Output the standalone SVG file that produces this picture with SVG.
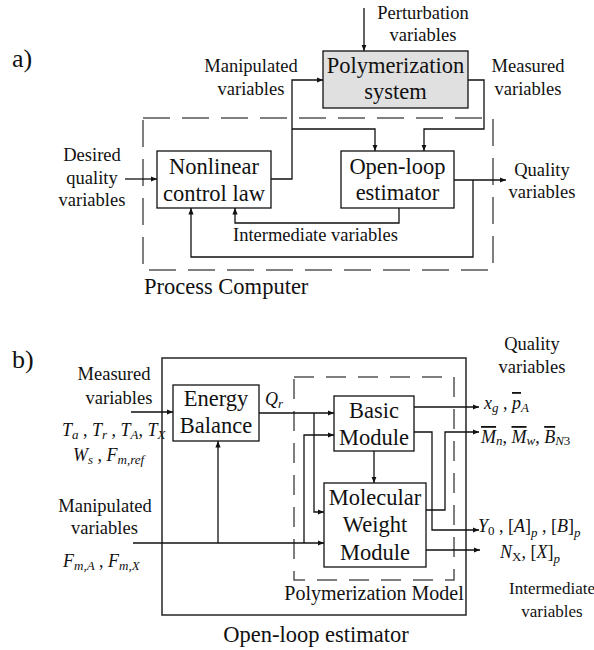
<svg xmlns="http://www.w3.org/2000/svg" width="594" height="650" viewBox="0 0 594 650" font-family="'Liberation Serif', 'Times New Roman', 'DejaVu Serif', serif">
  <defs>
    <marker id="arr" markerUnits="userSpaceOnUse" markerWidth="7" markerHeight="6" refX="6.5" refY="2.6" orient="auto">
      <path d="M0,0 L6.5,2.6 L0,5.2 z" fill="#111"/>
    </marker>
    <style>
      svg, text, tspan { font-family: 'Liberation Serif', 'Times New Roman', 'DejaVu Serif', serif; }
      text { fill: #111; }
      .box { fill: #fff; stroke: #111; stroke-width: 1.3; }
      .grey { fill: #e0e0e0; stroke: #111; stroke-width: 1.3; }
      .outer { fill: none; stroke: #333; stroke-width: 1.6; }
      .dashA { fill: none; stroke: #555; stroke-width: 1.5; stroke-dasharray: 27 12; }
      .dashB { fill: none; stroke: #555; stroke-width: 1.5; stroke-dasharray: 20 12; }
      .wire { fill: none; stroke: #111; stroke-width: 1.3; }
      .arrow { marker-end: url(#arr); }
      .big { font-size: 22.5px; text-anchor: middle; }
      .lab { font-size: 18.5px; text-anchor: middle; }
      .labl { font-size: 18.5px; }
      .tag { font-size: 26px; }
      .m { font-size: 18px; font-style: italic; }
      .sb { font-size: 13px; }
      .up { font-style: normal; }
    </style>
  </defs>

  <!-- panel a: control scheme -->
  <text class="tag" x="12" y="67">a)</text>

  <g id="process-computer">
    <rect class="dashA" x="143" y="118" width="350" height="152"/>
    <text class="big" x="144" y="294" style="text-anchor:start">Process Computer</text>
  </g>

  <g id="polymerization-system">
    <rect class="grey" x="323" y="51" width="145" height="57"/>
    <text class="big" x="395.5" y="73">Polymerization</text>
    <text class="big" x="395.5" y="99">system</text>
  </g>

  <g id="nonlinear-control-law">
    <rect class="box" x="157" y="151" width="114" height="57"/>
    <text class="big" x="214" y="174">Nonlinear</text>
    <text class="big" x="214" y="201">control law</text>
  </g>

  <g id="open-loop-estimator-a">
    <rect class="box" x="341" y="151" width="113" height="57"/>
    <text class="big" x="397.5" y="174">Open-loop</text>
    <text class="big" x="397.5" y="200">estimator</text>
  </g>

  <g id="labels-a">
    <text class="lab" x="423" y="19">Perturbation</text>
    <text class="lab" x="423" y="41">variables</text>
    <text class="lab" x="251" y="72">Manipulated</text>
    <text class="lab" x="251" y="95">variables</text>
    <text class="lab" x="528" y="72">Measured</text>
    <text class="lab" x="528" y="95">variables</text>
    <text class="lab" x="92" y="161">Desired</text>
    <text class="lab" x="92" y="183.5">quality</text>
    <text class="lab" x="92" y="206">variables</text>
    <text class="lab" x="542" y="176">Quality</text>
    <text class="lab" x="542" y="198">variables</text>
    <text class="labl" x="233" y="241">Intermediate variables</text>
  </g>

  <g id="connectors-a">
    <path class="wire arrow" d="M364,8 V51"/>
    <path class="wire arrow" d="M125,179 H157"/>
    <path class="wire arrow" d="M271,179 H292 V80 H323"/>
    <path class="wire arrow" d="M292,129 H375 V151"/>
    <path class="wire arrow" d="M468,80 H484 V129 H424 V151"/>
    <path class="wire arrow" d="M399,208 V223 H235 V208"/>
    <path class="wire arrow" d="M454,180 H506"/>
    <path class="wire arrow" d="M473,180 V257 H191 V208"/>
  </g>

  <!-- panel b: open-loop estimator structure -->
  <text class="tag" x="12" y="368">b)</text>

  <g id="open-loop-estimator-b">
    <rect class="outer" x="162" y="358" width="304" height="257"/>
    <text class="big" x="316" y="642">Open-loop estimator</text>
  </g>

  <g id="polymerization-model">
    <rect class="dashB" x="294" y="377" width="160" height="203"/>
    <text class="lab" x="374" y="600" style="font-size:20px">Polymerization Model</text>
  </g>

  <g id="energy-balance">
    <rect class="box" x="173" y="385" width="86" height="56"/>
    <text class="big" x="216" y="406">Energy</text>
    <text class="big" x="216" y="433">Balance</text>
  </g>

  <g id="basic-module">
    <rect class="box" x="334" y="396" width="80" height="55"/>
    <text class="big" x="374" y="418">Basic</text>
    <text class="big" x="374" y="445">Module</text>
  </g>

  <g id="molecular-weight-module">
    <rect class="box" x="324" y="483" width="102" height="84"/>
    <text class="big" x="375" y="505">Molecular</text>
    <text class="big" x="375" y="532">Weight</text>
    <text class="big" x="375" y="560">Module</text>
  </g>

  <g id="labels-b">
    <text class="lab" x="114" y="380">Measured</text>
    <text class="lab" x="119" y="404">variables</text>
    <text class="m" x="62" y="436">T<tspan class="sb" dy="3">a</tspan><tspan dy="-3" class="up"> , </tspan>T<tspan class="sb" dy="3">r</tspan><tspan dy="-3" class="up"> , </tspan>T<tspan class="sb" dy="3">A</tspan><tspan dy="-3" class="up">, </tspan>T<tspan class="sb" dy="3">X</tspan></text>
    <text class="m" x="73" y="461">W<tspan class="sb" dy="3">s</tspan><tspan dy="-3" class="up"> , </tspan>F<tspan class="sb" dy="3">m,ref</tspan></text>
    <text class="lab" x="105" y="512">Manipulated</text>
    <text class="lab" x="104.5" y="534">variables</text>
    <text class="m" x="63" y="567">F<tspan class="sb" dy="3">m,A</tspan><tspan dy="-3" class="up"> , </tspan>F<tspan class="sb" dy="3">m,X</tspan></text>
    <text class="m" x="265" y="405">Q<tspan class="sb" dy="3">r</tspan></text>
    <text class="lab" x="532" y="350">Quality</text>
    <text class="lab" x="532" y="373">variables</text>
    <text class="m" x="484" y="409">x<tspan class="sb" dy="3">g</tspan><tspan dy="-3" class="up"> , </tspan><tspan text-decoration="overline">p</tspan><tspan class="sb" dy="3">A</tspan></text>
    <text class="m" x="481" y="443"><tspan text-decoration="overline">M</tspan><tspan class="sb" dy="2">n</tspan><tspan dy="-2" class="up">, </tspan><tspan text-decoration="overline">M</tspan><tspan class="sb" dy="2">w</tspan><tspan dy="-2" class="up">, </tspan><tspan text-decoration="overline">B</tspan><tspan class="sb" dy="2">N<tspan class="up">3</tspan></tspan></text>
    <text class="m" x="478" y="532">Y<tspan class="sb up" dy="3">0</tspan><tspan dy="-3" class="up"> , [</tspan>A<tspan class="up">]</tspan><tspan class="sb" dy="5">p</tspan><tspan dy="-5" class="up"> , [</tspan>B<tspan class="up">]</tspan><tspan class="sb" dy="5">p</tspan></text>
    <text class="m" x="500" y="558">N<tspan class="sb up" dy="3">X</tspan><tspan dy="-3" class="up">, [</tspan>X<tspan class="up">]</tspan><tspan class="sb" dy="5">p</tspan></text>
    <text class="lab" x="552" y="594" style="font-size:17px">Intermediate</text>
    <text class="lab" x="552" y="617" style="font-size:17px">variables</text>
  </g>

  <g id="connectors-b">
    <path class="wire arrow" d="M131,412 H173"/>
    <path class="wire arrow" d="M133,543 H324"/>
    <path class="wire arrow" d="M218,543 V441"/>
    <path class="wire arrow" d="M259,413 H334"/>
    <path class="wire arrow" d="M314,413 V512 H324"/>
    <path class="wire arrow" d="M304,543 V435 H334"/>
    <path class="wire arrow" d="M374,451 V483"/>
    <path class="wire arrow" d="M414,407 H479"/>
    <path class="wire arrow" d="M414,432 H432 V530 H479"/>
    <path class="wire arrow" d="M426,510 H445 V432 H479"/>
    <path class="wire arrow" d="M426,550 H480"/>
  </g>
</svg>
